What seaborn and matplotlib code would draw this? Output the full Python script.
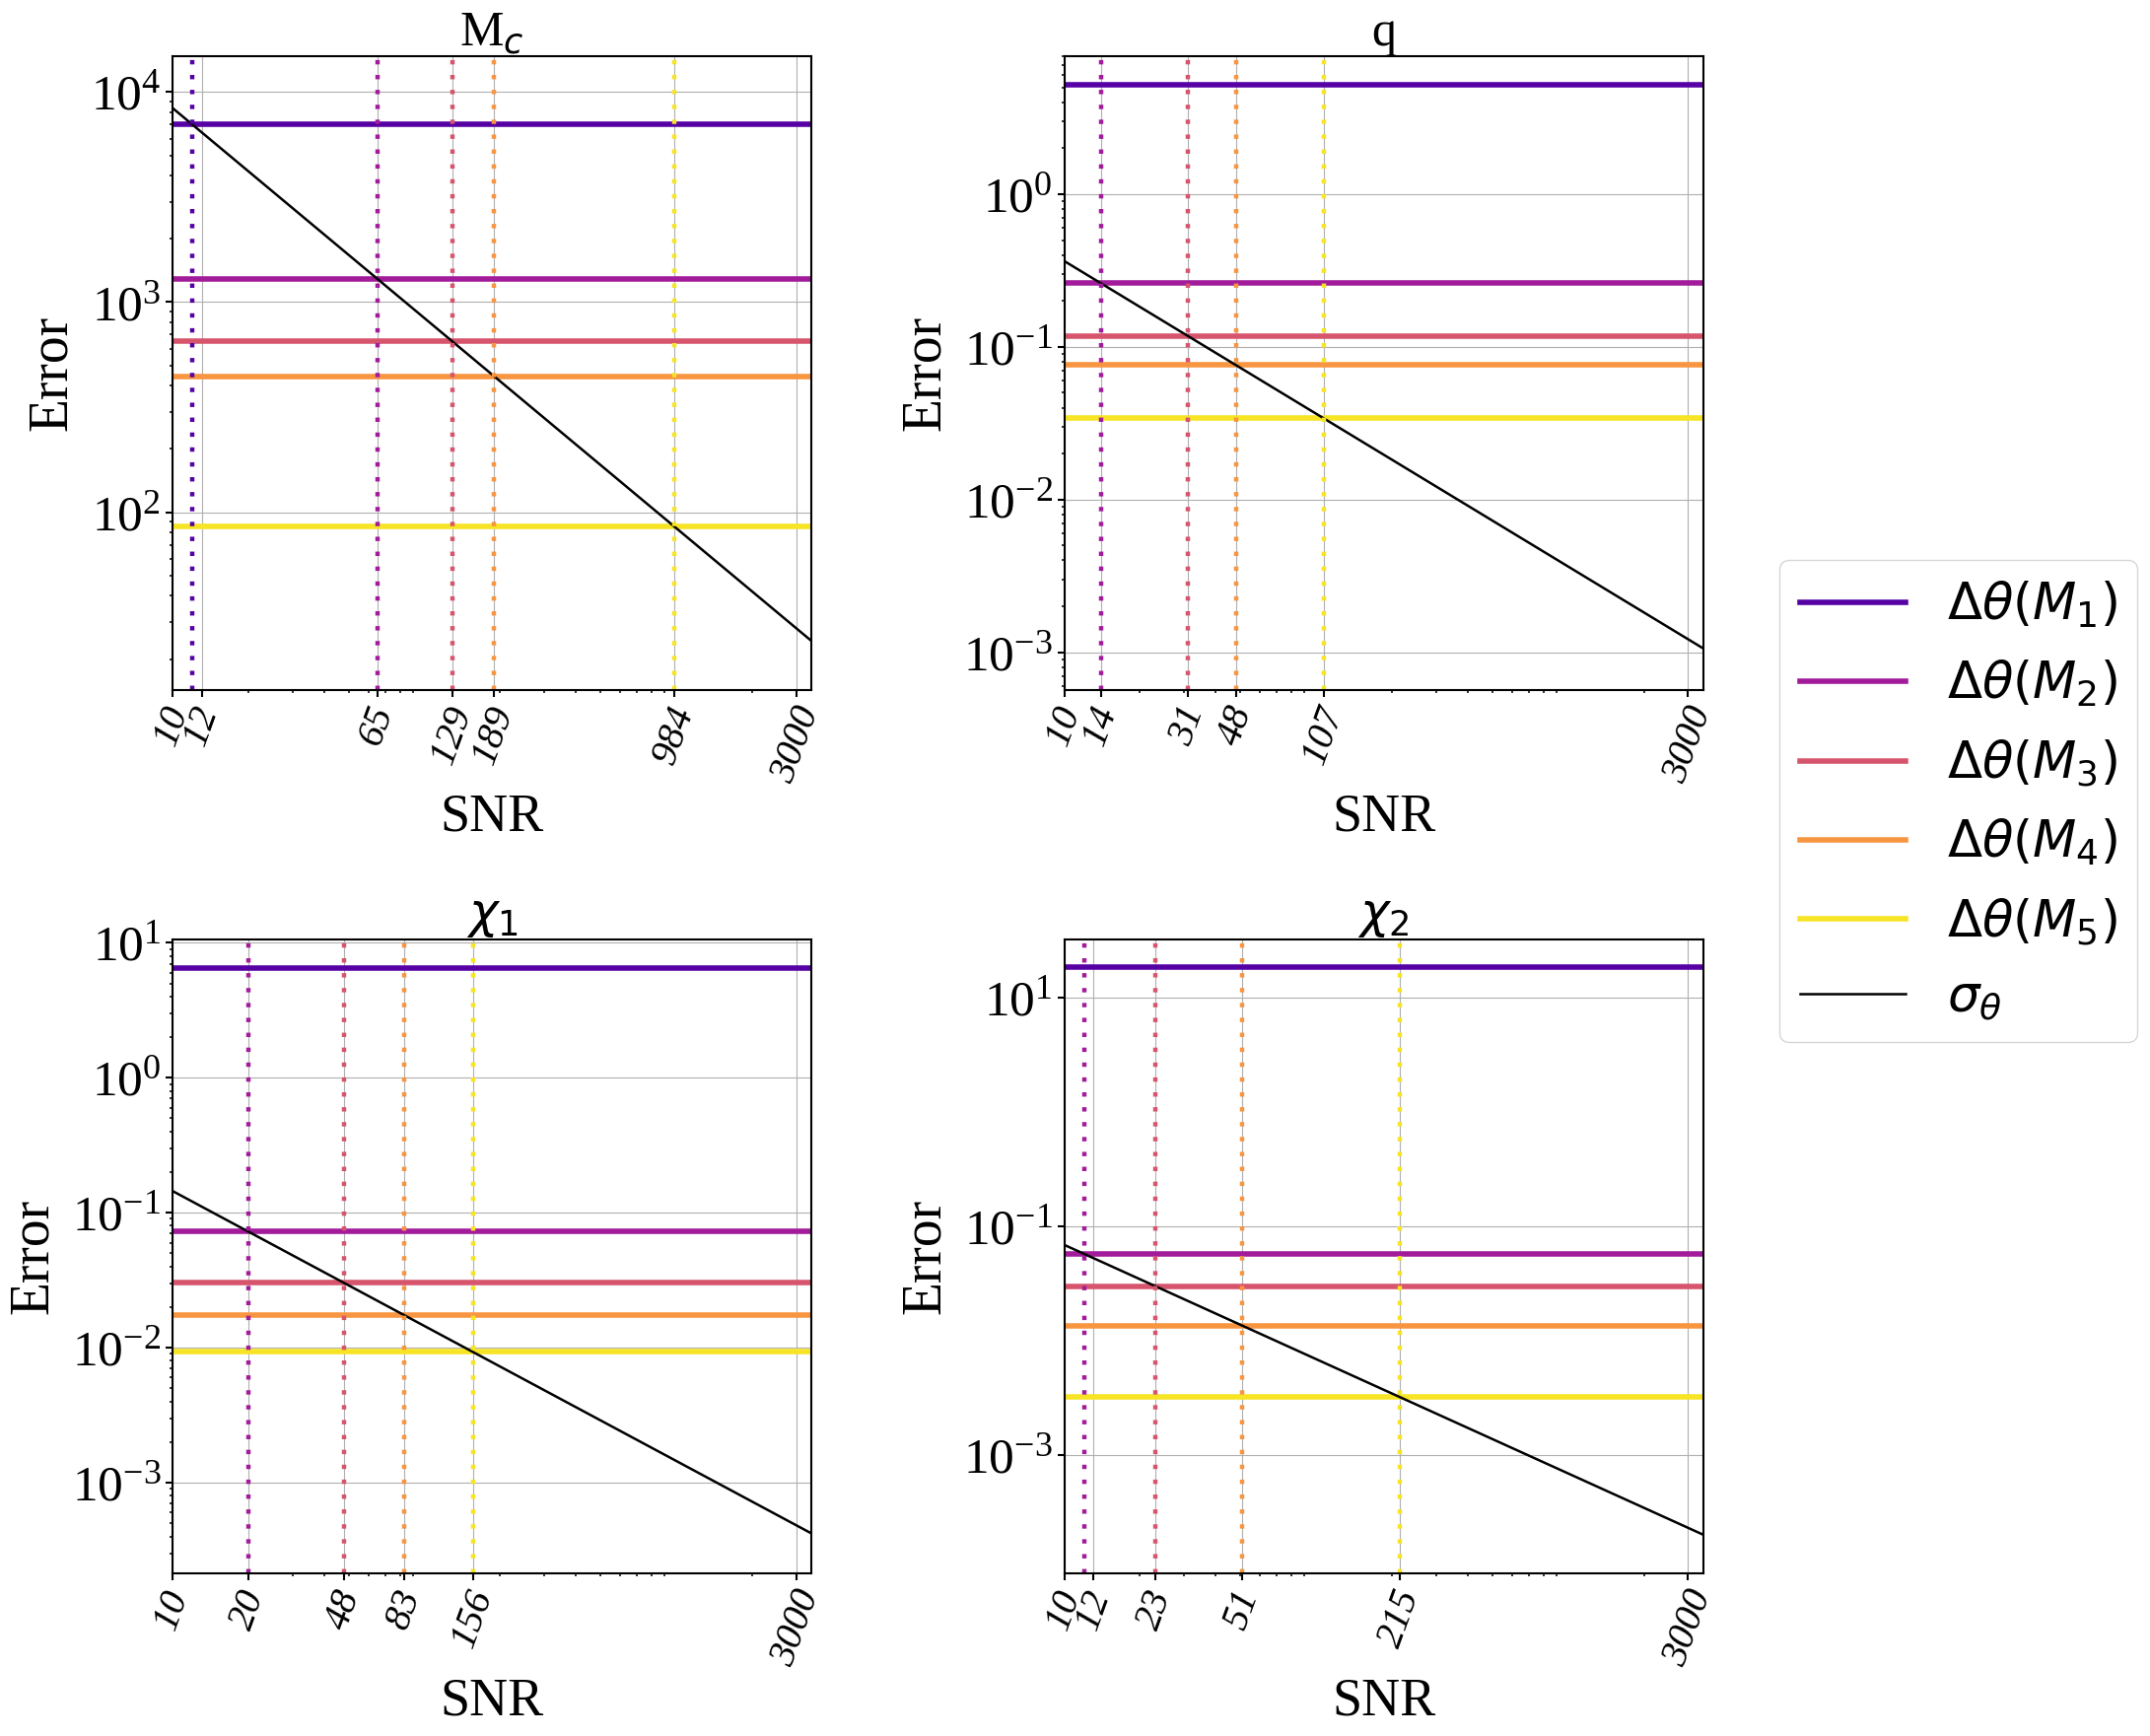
import numpy as np
import matplotlib
matplotlib.use("Agg")
import matplotlib.pyplot as plt
from matplotlib.ticker import NullLocator
import seaborn as sns

# SNR range of the sigma line (ends of the x axis)
snr_ends = [10, 3450]

titles = ["M$_c$", "q", r"$\chi_1$", r"$\chi_2$"]
model_labels = [r"$\Delta\theta(M_%d)$" % i for i in range(1, 6)]

# horizontal levels, models M1..M5
delta_mc = [7000, 1292, 651, 444, 85.4]
delta_q = [5.22, 0.2607, 0.1177, 0.0760, 0.0341]
delta_chi1 = [6.53, 0.0725, 0.0302, 0.01747, 0.00929]
delta_chi2 = [18.5, 0.0575, 0.0300, 0.01353, 0.00321]

# sigma_theta at the two ends of the SNR range
sigma_mc = [8400, 24.35]
sigma_q = [0.365, 0.001058]
sigma_chi1 = [0.145, 0.00042]
sigma_chi2 = [0.069, 0.0002]

# SNR where sigma meets each level (nan = outside the plot)
cross_mc = [12, 65, 129, 189, 984]
cross_q = [np.nan, 14, 31, 48, 107]
cross_chi1 = [np.nan, 20, 48, 83, 156]
cross_chi2 = [np.nan, 12, 23, 51, 215]

ticks_mc = [10, 13.1, 65, 129, 189, 984, 3000]
ticks_q = [10, 14, 31, 48, 107, 3000]
ticks_chi1 = [10, 20, 48, 83, 156, 3000]
ticks_chi2 = [10, 13.1, 23, 51, 215, 3000]
labels_mc = ["10", "12", "65", "129", "189", "984", "3000"]
labels_q = ["10", "14", "31", "48", "107", "3000"]
labels_chi1 = ["10", "20", "48", "83", "156", "3000"]
labels_chi2 = ["10", "12", "23", "51", "215", "3000"]

yticks_mc = [1e2, 1e3, 1e4]
yticks_q = [1e-3, 1e-2, 1e-1, 1e0]
yticks_chi1 = [1e-3, 1e-2, 1e-1, 1e0, 1e1]
yticks_chi2 = [1e-3, 1e-1, 1e1]
y_minor = [True, True, True, False]

ylims = [(14.3, 14800), (5.69e-4, 8.0), (2.13e-4, 10.5), (9.2e-5, 32.2)]

panels = [
    (delta_mc, sigma_mc, cross_mc, ticks_mc, labels_mc, yticks_mc),
    (delta_q, sigma_q, cross_q, ticks_q, labels_q, yticks_q),
    (delta_chi1, sigma_chi1, cross_chi1, ticks_chi1, labels_chi1, yticks_chi1),
    (delta_chi2, sigma_chi2, cross_chi2, ticks_chi2, labels_chi2, yticks_chi2),
]

plt.rcParams["font.family"] = ["Liberation Serif", "DejaVu Serif"]
plt.rcParams["mathtext.fontset"] = "dejavusans"
plt.rcParams["axes.linewidth"] = 1.5
plt.rcParams["xtick.major.width"] = 1.5
plt.rcParams["ytick.major.width"] = 1.5
plt.rcParams["xtick.minor.width"] = 1.1
plt.rcParams["ytick.minor.width"] = 1.1
plt.rcParams["xtick.major.size"] = 5
plt.rcParams["ytick.major.size"] = 5

colors = plt.cm.plasma(np.linspace(0.15, 0.95, 5))

fig = plt.figure(figsize=(21.81, 17.61), dpi=100)
axes = fig.subplots(2, 2).ravel()
fig.subplots_adjust(left=0.0802, right=0.7923, bottom=0.0937, top=0.9676,
                    wspace=0.395, hspace=0.395)

for ax, title, panel, ylim, minor in zip(axes, titles, panels, ylims, y_minor):
    deltas, sig, cross, ticks, labs, yt = panel
    for d, c, lab in zip(deltas, colors, model_labels):
        ax.axhline(d, color=c, lw=4, label=lab)
    sns.lineplot(x=snr_ends, y=sig, ax=ax, color="black", lw=1.8,
                 label=r"$\sigma_\theta$", legend=False)
    for x, c in zip(cross, colors):
        if not np.isnan(x):
            ax.axvline(x, color=c, lw=3.2, ls=(0, (1, 2.4)))
    ax.set_xscale("log")
    ax.set_yscale("log")
    ax.set_xlim(snr_ends)
    ax.set_ylim(ylim)
    ax.set_xticks(ticks)
    ax.set_xticklabels(labs, rotation=70, fontstyle="italic", fontsize=28.5)
    ax.set_yticks(yt)
    if not minor:
        ax.yaxis.set_minor_locator(NullLocator())
    ax.tick_params(axis="y", labelsize=37)
    ax.grid(True, which="major")
    ax.set_axisbelow(True)
    ax.set_title(title, fontsize=36)
    ax.set_xlabel("SNR", fontsize=39)
    ax.set_ylabel("Error", fontsize=40, labelpad=9)

handles, labels = axes[0].get_legend_handles_labels()
fig.legend(handles, labels, loc="upper left", bbox_to_anchor=(0.8276, 0.6775),
           borderaxespad=0, fontsize=37, handlelength=2.1, labelspacing=0.56)

fig.savefig("out.png", dpi=100)
plt.close(fig)
